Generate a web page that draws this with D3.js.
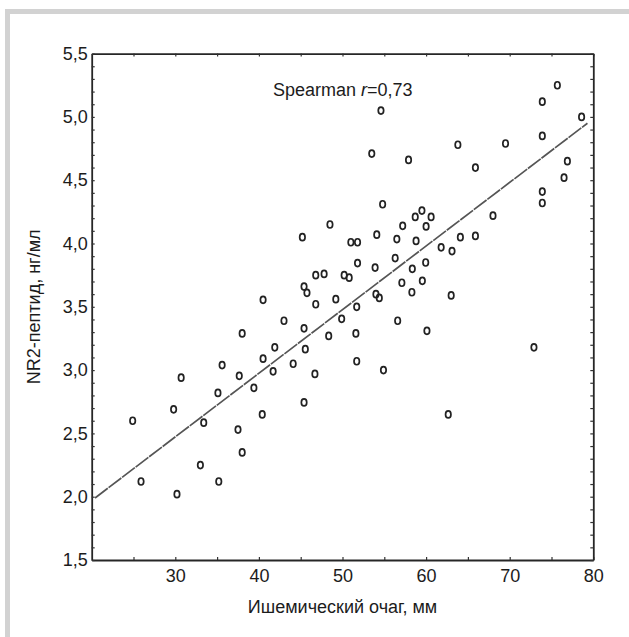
<!DOCTYPE html>
<html>
<head>
<meta charset="utf-8">
<title>NR2</title>
<style>
body {
  margin: 0;
  background: #fff;
}
svg text {
  font-family: "Liberation Sans", Arial, sans-serif;
  fill: #1c1c1c;
}
.axis path {
  stroke: #262626;
  stroke-width: 1.8px;
}
.axis line {
  stroke: #333;
  stroke-width: 1.2px;
}
.axis text {
  font-size: 18px;
}
</style>
</head>
<body>
<svg id="chart" width="629" height="637"></svg>
<script src="https://d3js.org/d3.v7.min.js"></script>
<script>

// ischemic focus size, mm
const focusMm = [
  48.5, 45.2, 46.8, 47.8, 50.2, 50.8, 45.4, 45.75, 40.5, 46.8,
  49.2, 54.6, 75.7, 73.9, 78.6, 73.9, 53.5, 57.9, 63.8, 69.5,
  65.9, 76.9, 76.5, 73.9, 73.9, 54.8, 68.0, 59.5, 58.7, 60.6,
  60.0, 57.2, 54.1, 56.5, 58.8, 51.0, 51.8, 64.1, 65.9, 61.8,
  63.1, 51.8, 56.3, 59.95, 58.35, 53.9, 57.1, 59.55, 54.0, 54.4,
  58.3, 63.0, 51.7, 43.0, 38.0, 45.4, 48.35, 49.9, 41.9, 45.55,
  40.5, 44.1, 35.6, 41.7, 46.7, 30.7, 37.65, 39.4, 35.1, 29.8,
  45.4, 40.4, 24.9, 33.4, 37.5, 38.0, 33.0, 25.9, 35.2, 30.2,
  56.6, 51.6, 60.1, 72.9, 51.7, 54.9, 62.65
];

// NR2 peptide, ng/ml
const nr2 = [
  4.15, 4.05, 3.75, 3.76, 3.75, 3.73, 3.66, 3.61, 3.555, 3.52,
  3.56, 5.05, 5.25, 5.12, 5.0, 4.85, 4.71, 4.66, 4.78, 4.79,
  4.60, 4.65, 4.52, 4.41, 4.32, 4.31, 4.22, 4.26, 4.21, 4.21,
  4.135, 4.14, 4.07, 4.035, 4.02, 4.01, 4.01, 4.05, 4.06, 3.97,
  3.94, 3.845, 3.885, 3.85, 3.80, 3.81, 3.69, 3.705, 3.60, 3.57,
  3.615, 3.59, 3.50, 3.39, 3.29, 3.33, 3.27, 3.405, 3.18, 3.165,
  3.09, 3.05, 3.04, 2.99, 2.97, 2.94, 2.955, 2.86, 2.82, 2.69,
  2.745, 2.65, 2.60, 2.585, 2.53, 2.35, 2.25, 2.12, 2.12, 2.02,
  3.39, 3.29, 3.31, 3.18, 3.07, 3.0, 2.65
];

// fitted line
const fitX = [20.4, 79.3];
const fitY = [1.99, 4.95];

const xTicks = [25, 30, 35, 40, 45, 50, 55, 60, 65, 70, 75, 80];
const yTicks = d3.range(15, 56).map(function(d) { return d / 10; });

const svg = d3.select("#chart");

// grey frame on the left and top
svg.append("rect").attr("x", 5).attr("y", 9).attr("width", 624).attr("height", 5).attr("fill", "#d2d2d2");
svg.append("rect").attr("x", 5).attr("y", 9).attr("width", 5).attr("height", 628).attr("fill", "#d2d2d2");

let x = d3.scaleLinear().domain([20, 80]).range([91.7, 593.3]),
    y = d3.scaleLinear().domain([1.5, 5.5]).range([560, 53.6]);

let comma = function(d) { return d3.format(".1f")(d).replace(".", ","); };

svg.append("g")
    .attr("class", "axis")
    .attr("transform", "translate(0," + y(1.5) + ")")
    .call(d3.axisBottom(x).tickValues(xTicks).tickSize(-3).tickSizeOuter(0).tickPadding(9)
      .tickFormat(function(d) { return d % 10 === 0 ? d : ""; }));

svg.append("g")
    .attr("class", "axis")
    .attr("transform", "translate(0," + y(5.5) + ")")
    .call(d3.axisTop(x).tickValues(xTicks).tickSize(-3).tickSizeOuter(0).tickFormat(""));

svg.append("g")
    .attr("class", "axis")
    .attr("transform", "translate(" + x(20) + ",0)")
    .call(d3.axisLeft(y).tickValues(yTicks).tickSize(-3).tickSizeOuter(0).tickPadding(4)
      .tickFormat(function(d) { return Math.round(d * 10) % 5 === 0 ? comma(d) : ""; }));

svg.append("g")
    .attr("class", "axis")
    .attr("transform", "translate(" + x(80) + ",0)")
    .call(d3.axisRight(y).tickValues(yTicks).tickSize(-3).tickSizeOuter(0).tickFormat(""));

// regression line
svg.append("line")
    .attr("x1", x(fitX[0])).attr("y1", y(fitY[0]))
    .attr("x2", x(fitX[1])).attr("y2", y(fitY[1]))
    .attr("stroke", "#555")
    .attr("stroke-width", 1.7)
    .attr("stroke-dasharray", "16,1");

// points
svg.append("g").selectAll("ellipse")
    .data(focusMm)
  .enter().append("ellipse")
    .attr("cx", function(d) { return x(d); })
    .attr("cy", function(d, i) { return y(nr2[i]); })
    .attr("rx", 2.7)
    .attr("ry", 3.5)
    .attr("fill", "none")
    .attr("stroke", "#222")
    .attr("stroke-width", 1.7);

// labels
let note = svg.append("text")
    .attr("x", 273)
    .attr("y", 96)
    .attr("font-size", 18);
note.append("tspan").text("Spearman ");
note.append("tspan").attr("font-style", "italic").text("r");
note.append("tspan").text("=0,73");

svg.append("text")
    .attr("x", (x(20) + x(80)) / 2)
    .attr("y", 613)
    .attr("text-anchor", "middle")
    .attr("font-size", 18)
    .text("Ишемический очаг, мм");

svg.append("text")
    .attr("transform", "translate(40," + (y(1.5) + y(5.5)) / 2 + ") rotate(-90)")
    .attr("text-anchor", "middle")
    .attr("font-size", 18)
    .text("NR2-пептид, нг/мл");

</script>
</body>
</html>
